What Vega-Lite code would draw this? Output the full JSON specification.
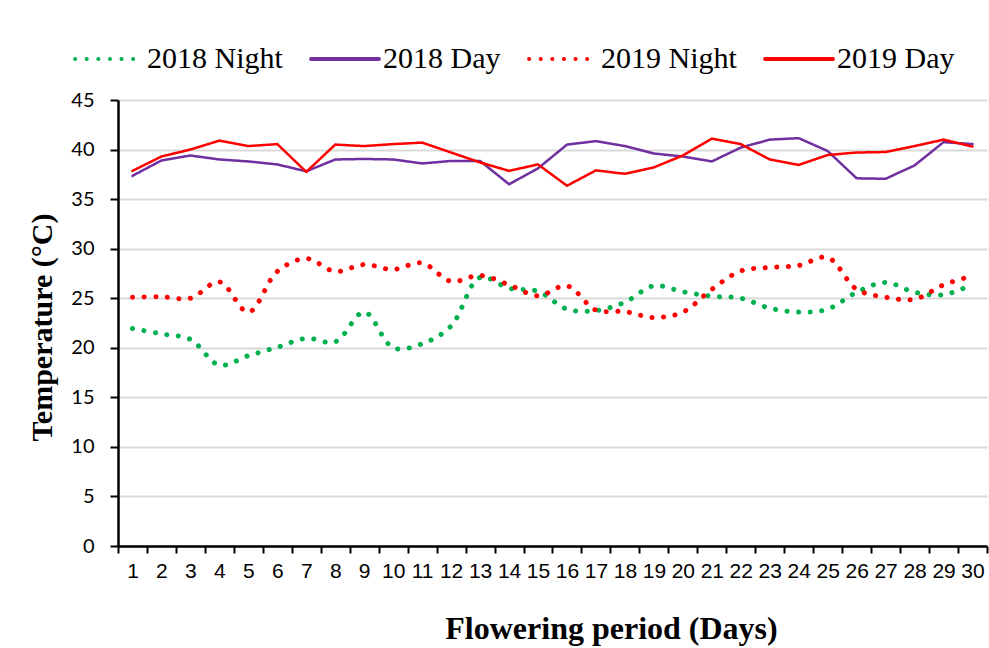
{
  "$schema": "https://vega.github.io/schema/vega-lite/v6.json",
  "width": 869,
  "height": 446,
  "autosize": {"type": "none"},
  "padding": {"left": 118, "top": 100, "right": 2, "bottom": 102},
  "background": "white",
  "config": {"view": {"stroke": null}},
  "datasets": {
    "temps": [
      {"Day": 1, "Series": "2018 Night", "Temp": 21.95},
      {"Day": 2, "Series": "2018 Night", "Temp": 21.4},
      {"Day": 3, "Series": "2018 Night", "Temp": 20.85},
      {"Day": 4, "Series": "2018 Night", "Temp": 18.25},
      {"Day": 5, "Series": "2018 Night", "Temp": 19.2},
      {"Day": 6, "Series": "2018 Night", "Temp": 20.05},
      {"Day": 7, "Series": "2018 Night", "Temp": 20.95},
      {"Day": 8, "Series": "2018 Night", "Temp": 20.6},
      {"Day": 9, "Series": "2018 Night", "Temp": 23.6},
      {"Day": 10, "Series": "2018 Night", "Temp": 20.0},
      {"Day": 11, "Series": "2018 Night", "Temp": 20.4},
      {"Day": 12, "Series": "2018 Night", "Temp": 22.2},
      {"Day": 13, "Series": "2018 Night", "Temp": 27.1},
      {"Day": 14, "Series": "2018 Night", "Temp": 26.0},
      {"Day": 15, "Series": "2018 Night", "Temp": 25.7},
      {"Day": 16, "Series": "2018 Night", "Temp": 23.9},
      {"Day": 17, "Series": "2018 Night", "Temp": 23.75},
      {"Day": 18, "Series": "2018 Night", "Temp": 24.6},
      {"Day": 19, "Series": "2018 Night", "Temp": 26.25},
      {"Day": 20, "Series": "2018 Night", "Temp": 25.65},
      {"Day": 21, "Series": "2018 Night", "Temp": 25.2},
      {"Day": 22, "Series": "2018 Night", "Temp": 25.0},
      {"Day": 23, "Series": "2018 Night", "Temp": 24.0},
      {"Day": 24, "Series": "2018 Night", "Temp": 23.6},
      {"Day": 25, "Series": "2018 Night", "Temp": 23.9},
      {"Day": 26, "Series": "2018 Night", "Temp": 25.6},
      {"Day": 27, "Series": "2018 Night", "Temp": 26.6},
      {"Day": 28, "Series": "2018 Night", "Temp": 25.6},
      {"Day": 29, "Series": "2018 Night", "Temp": 25.35},
      {"Day": 30, "Series": "2018 Night", "Temp": 26.4},
      {"Day": 1, "Series": "2018 Day", "Temp": 37.35},
      {"Day": 2, "Series": "2018 Day", "Temp": 38.9},
      {"Day": 3, "Series": "2018 Day", "Temp": 39.4},
      {"Day": 4, "Series": "2018 Day", "Temp": 39.0},
      {"Day": 5, "Series": "2018 Day", "Temp": 38.8},
      {"Day": 6, "Series": "2018 Day", "Temp": 38.5},
      {"Day": 7, "Series": "2018 Day", "Temp": 37.8},
      {"Day": 8, "Series": "2018 Day", "Temp": 39.0},
      {"Day": 9, "Series": "2018 Day", "Temp": 39.05},
      {"Day": 10, "Series": "2018 Day", "Temp": 39.0},
      {"Day": 11, "Series": "2018 Day", "Temp": 38.6},
      {"Day": 12, "Series": "2018 Day", "Temp": 38.85},
      {"Day": 13, "Series": "2018 Day", "Temp": 38.85},
      {"Day": 14, "Series": "2018 Day", "Temp": 36.5},
      {"Day": 15, "Series": "2018 Day", "Temp": 38.1},
      {"Day": 16, "Series": "2018 Day", "Temp": 40.5},
      {"Day": 17, "Series": "2018 Day", "Temp": 40.85},
      {"Day": 18, "Series": "2018 Day", "Temp": 40.35},
      {"Day": 19, "Series": "2018 Day", "Temp": 39.6},
      {"Day": 20, "Series": "2018 Day", "Temp": 39.3},
      {"Day": 21, "Series": "2018 Day", "Temp": 38.8},
      {"Day": 22, "Series": "2018 Day", "Temp": 40.2},
      {"Day": 23, "Series": "2018 Day", "Temp": 41.0},
      {"Day": 24, "Series": "2018 Day", "Temp": 41.15},
      {"Day": 25, "Series": "2018 Day", "Temp": 39.85},
      {"Day": 26, "Series": "2018 Day", "Temp": 37.1},
      {"Day": 27, "Series": "2018 Day", "Temp": 37.05},
      {"Day": 28, "Series": "2018 Day", "Temp": 38.4},
      {"Day": 29, "Series": "2018 Day", "Temp": 40.75},
      {"Day": 30, "Series": "2018 Day", "Temp": 40.55},
      {"Day": 1, "Series": "2019 Night", "Temp": 25.1},
      {"Day": 2, "Series": "2019 Night", "Temp": 25.15},
      {"Day": 3, "Series": "2019 Night", "Temp": 25.0},
      {"Day": 4, "Series": "2019 Night", "Temp": 26.65},
      {"Day": 5, "Series": "2019 Night", "Temp": 23.6},
      {"Day": 6, "Series": "2019 Night", "Temp": 27.7},
      {"Day": 7, "Series": "2019 Night", "Temp": 29.0},
      {"Day": 8, "Series": "2019 Night", "Temp": 27.7},
      {"Day": 9, "Series": "2019 Night", "Temp": 28.4},
      {"Day": 10, "Series": "2019 Night", "Temp": 27.9},
      {"Day": 11, "Series": "2019 Night", "Temp": 28.55},
      {"Day": 12, "Series": "2019 Night", "Temp": 26.7},
      {"Day": 13, "Series": "2019 Night", "Temp": 27.3},
      {"Day": 14, "Series": "2019 Night", "Temp": 26.35},
      {"Day": 15, "Series": "2019 Night", "Temp": 25.25},
      {"Day": 16, "Series": "2019 Night", "Temp": 26.25},
      {"Day": 17, "Series": "2019 Night", "Temp": 23.8},
      {"Day": 18, "Series": "2019 Night", "Temp": 23.65},
      {"Day": 19, "Series": "2019 Night", "Temp": 23.05},
      {"Day": 20, "Series": "2019 Night", "Temp": 23.6},
      {"Day": 21, "Series": "2019 Night", "Temp": 25.9},
      {"Day": 22, "Series": "2019 Night", "Temp": 27.75},
      {"Day": 23, "Series": "2019 Night", "Temp": 28.1},
      {"Day": 24, "Series": "2019 Night", "Temp": 28.3},
      {"Day": 25, "Series": "2019 Night", "Temp": 29.1},
      {"Day": 26, "Series": "2019 Night", "Temp": 25.9},
      {"Day": 27, "Series": "2019 Night", "Temp": 25.1},
      {"Day": 28, "Series": "2019 Night", "Temp": 24.9},
      {"Day": 29, "Series": "2019 Night", "Temp": 26.35},
      {"Day": 30, "Series": "2019 Night", "Temp": 27.25},
      {"Day": 1, "Series": "2019 Day", "Temp": 37.85},
      {"Day": 2, "Series": "2019 Day", "Temp": 39.3},
      {"Day": 3, "Series": "2019 Day", "Temp": 40.0},
      {"Day": 4, "Series": "2019 Day", "Temp": 40.9},
      {"Day": 5, "Series": "2019 Day", "Temp": 40.35},
      {"Day": 6, "Series": "2019 Day", "Temp": 40.55},
      {"Day": 7, "Series": "2019 Day", "Temp": 37.75},
      {"Day": 8, "Series": "2019 Day", "Temp": 40.5},
      {"Day": 9, "Series": "2019 Day", "Temp": 40.35},
      {"Day": 10, "Series": "2019 Day", "Temp": 40.55},
      {"Day": 11, "Series": "2019 Day", "Temp": 40.7},
      {"Day": 12, "Series": "2019 Day", "Temp": 39.7},
      {"Day": 13, "Series": "2019 Day", "Temp": 38.7},
      {"Day": 14, "Series": "2019 Day", "Temp": 37.85},
      {"Day": 15, "Series": "2019 Day", "Temp": 38.5},
      {"Day": 16, "Series": "2019 Day", "Temp": 36.35},
      {"Day": 17, "Series": "2019 Day", "Temp": 37.9},
      {"Day": 18, "Series": "2019 Day", "Temp": 37.55},
      {"Day": 19, "Series": "2019 Day", "Temp": 38.2},
      {"Day": 20, "Series": "2019 Day", "Temp": 39.4},
      {"Day": 21, "Series": "2019 Day", "Temp": 41.1},
      {"Day": 22, "Series": "2019 Day", "Temp": 40.55},
      {"Day": 23, "Series": "2019 Day", "Temp": 39.0},
      {"Day": 24, "Series": "2019 Day", "Temp": 38.45},
      {"Day": 25, "Series": "2019 Day", "Temp": 39.45},
      {"Day": 26, "Series": "2019 Day", "Temp": 39.7},
      {"Day": 27, "Series": "2019 Day", "Temp": 39.75},
      {"Day": 28, "Series": "2019 Day", "Temp": 40.35},
      {"Day": 29, "Series": "2019 Day", "Temp": 41.0},
      {"Day": 30, "Series": "2019 Day", "Temp": 40.3}
    ]
  },
  "data": {"name": "temps"},
  "encoding": {
    "x": {
      "field": "Day",
      "type": "ordinal",
      "scale": {"paddingInner": 0, "paddingOuter": 0},
      "axis": {
        "title": "Flowering period (Days)",
        "titleFont": "Liberation Serif",
        "titleFontWeight": "bold",
        "titleFontSize": 32,
        "titleColor": "black",
        "titleAnchor": "middle",
        "titleAlign": "center",
        "titleBaseline": "alphabetic",
        "titleX": 493,
        "titleY": 92,
        "labelAngle": 0,
        "labelFont": "Liberation Sans Narrow, Liberation Sans, Arial, sans-serif",
        "labelFontSize": 21,
        "labelColor": "black",
        "labelPadding": 7,
        "labelOverlap": false,
        "labelBaseline": "top",
        "tickBand": "extent",
        "tickSize": 7,
        "tickWidth": 2,
        "tickColor": "black",
        "domainColor": "black",
        "domainWidth": 2.5,
        "grid": false
      }
    },
    "y": {
      "field": "Temp",
      "type": "quantitative",
      "scale": {"domain": [0, 45], "nice": false, "zero": true},
      "axis": {
        "title": "Temperature (°C)",
        "titleFont": "Liberation Serif",
        "titleFontWeight": "bold",
        "titleFontSize": 30,
        "titleColor": "black",
        "titleAngle": -90,
        "titleAlign": "center",
        "titleBaseline": "middle",
        "titleX": -76,
        "titleY": 227,
        "values": [0, 5, 10, 15, 20, 25, 30, 35, 40, 45],
        "labelFont": "Lato, Open Sans, sans-serif",
        "labelFontSize": 20,
        "labelColor": "black",
        "labelPadding": 16,
        "tickSize": 8,
        "tickWidth": 2,
        "tickColor": "black",
        "domainColor": "black",
        "domainWidth": 2.5,
        "grid": true,
        "gridColor": "#d9d9d9",
        "gridWidth": 2
      }
    },
    "color": {
      "field": "Series",
      "type": "nominal",
      "scale": {
        "domain": ["2018 Night", "2018 Day", "2019 Night", "2019 Day"],
        "range": ["#00b050", "#7030a0", "#ff0000", "#ff0000"]
      },
      "legend": {
        "title": null,
        "orient": "none",
        "direction": "horizontal",
        "legendX": -45,
        "legendY": -77,
        "labelFont": "Liberation Serif",
        "labelFontSize": 30,
        "labelColor": "black",
        "labelOffset": 2,
        "columnPadding": 20,
        "symbolType": "stroke",
        "symbolSize": 4600,
        "symbolStrokeWidth": 4,
        "encode": {"symbols": {"update": {"strokeCap": {"value": "round"}}}}
      }
    },
    "strokeDash": {
      "field": "Series",
      "type": "nominal",
      "scale": {
        "domain": ["2018 Night", "2018 Day", "2019 Night", "2019 Day"],
        "range": [[0.1, 11.5], [1, 0], [0.1, 11.5], [1, 0]]
      },
      "legend": null
    }
  },
  "layer": [
    {
      "transform": [{"filter": "indexof(datum.Series, 'Night') >= 0"}],
      "mark": {"type": "line", "interpolate": "catmull-rom", "strokeWidth": 5, "strokeCap": "round"}
    },
    {
      "transform": [{"filter": "indexof(datum.Series, 'Day') >= 0"}],
      "mark": {"type": "line", "interpolate": "linear", "strokeWidth": 2.5, "strokeCap": "round"}
    }
  ]
}
